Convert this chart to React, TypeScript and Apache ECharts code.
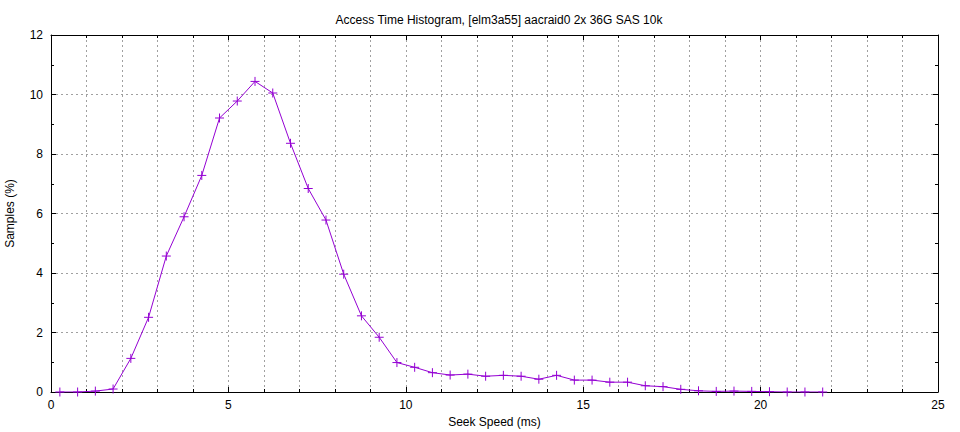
import React, { useEffect, useRef } from "react";
import * as echarts from "echarts";

const seekMs = [
  0.25, 0.75, 1.25, 1.75, 2.25, 2.75, 3.25, 3.75, 4.25, 4.75, 5.25, 5.75, 6.25, 6.75,
  7.25, 7.75, 8.25, 8.75, 9.25, 9.75, 10.25, 10.75, 11.25, 11.75, 12.25, 12.75, 13.25,
  13.75, 14.25, 14.75, 15.25, 15.75, 16.25, 16.75, 17.25, 17.75, 18.25, 18.75, 19.25,
  19.75, 20.25, 20.75, 21.25, 21.75,
];
const samplesPct = [
  0, 0, 0.03, 0.1, 1.13, 2.51, 4.57, 5.89, 7.28, 9.21, 9.78, 10.44, 10.05, 8.36,
  6.84, 5.78, 3.96, 2.56, 1.84, 0.99, 0.83, 0.65, 0.57, 0.6, 0.53, 0.56, 0.53,
  0.43, 0.56, 0.4, 0.4, 0.33, 0.33, 0.21, 0.18, 0.09, 0.04, 0.02, 0.03,
  0.02, 0.01, 0, 0, 0,
];
const titleText = "Access Time Histogram, [elm3a55] aacraid0 2x 36G SAS 10k";
const xName = "Seek Speed (ms)";
const yName = "Samples (%)";

const FONT = "Liberation Sans";
const LINE = "#9400d3";

export default function App() {
  const ref = useRef<HTMLDivElement>(null);
  useEffect(() => {
    if (!ref.current) return;
    const chart = echarts.init(ref.current, null, { renderer: "svg" });
    const gridLine = { show: true, lineStyle: { color: "#a0a0a0", type: [2, 3] as any, width: 1 } };
    const xCommon = {
      type: "value" as const,
      min: 0,
      max: 25,
      interval: 5,
      axisLine: { show: true, onZero: false, lineStyle: { color: "#000", width: 1 } },
      axisTick: { show: true, inside: true, length: 5, lineStyle: { color: "#000" } },
      minorTick: { show: true, splitNumber: 5, length: 3, lineStyle: { color: "#000" } },
    };
    const yCommon = {
      type: "value" as const,
      min: 0,
      max: 12,
      interval: 2,
      axisLine: { show: true, onZero: false, lineStyle: { color: "#000", width: 1 } },
      axisTick: { show: true, inside: true, length: 5, lineStyle: { color: "#000" } },
      minorTick: { show: true, splitNumber: 2, length: 3, lineStyle: { color: "#000" } },
    };
    chart.setOption({
      animation: false,
      backgroundColor: "#fff",
      textStyle: { fontFamily: FONT },
      title: {
        text: titleText,
        left: 494,
        textAlign: "center",
        top: 9,
        textStyle: { fontFamily: FONT, fontSize: 12, fontWeight: "normal", color: "#000" },
      },
      grid: { left: 51, right: 22, top: 35, bottom: 40, containLabel: false, outerBoundsMode: "none" },
      xAxis: [
        {
          ...xCommon,
          position: "bottom",
          name: xName,
          nameLocation: "middle",
          nameGap: 23,
          nameTextStyle: { fontFamily: FONT, fontSize: 12, color: "#000" },
          axisLabel: { show: true, fontFamily: FONT, fontSize: 12, color: "#000", margin: 7 },
          splitLine: gridLine,
          minorSplitLine: gridLine,
        },
        {
          ...xCommon,
          position: "top",
          axisLabel: { show: false },
          splitLine: { show: false },
        },
      ],
      yAxis: [
        {
          ...yCommon,
          position: "left",
          name: yName,
          nameLocation: "middle",
          nameGap: 35,
          nameTextStyle: { fontFamily: FONT, fontSize: 12, color: "#000" },
          axisLabel: { show: true, fontFamily: FONT, fontSize: 12, color: "#000", margin: 8 },
          splitLine: gridLine,
        },
        {
          ...yCommon,
          position: "right",
          axisLabel: { show: false },
          splitLine: { show: false },
        },
      ],
      series: [
        {
          type: "line",
          data: seekMs.map((x, i) => [x, samplesPct[i]]),
          lineStyle: { color: LINE, width: 1 },
          symbol: "path://M0,-1L0,1M-1,0L1,0",
          symbolSize: 9,
          showAllSymbol: true,
          itemStyle: { color: LINE, borderColor: LINE, borderWidth: 1 },
          z: 5,
        },
      ],
    });
    return () => chart.dispose();
  }, []);
  return <div ref={ref} style={{ width: 960, height: 432, position: "absolute", left: 0, top: 0 }} />;
}
